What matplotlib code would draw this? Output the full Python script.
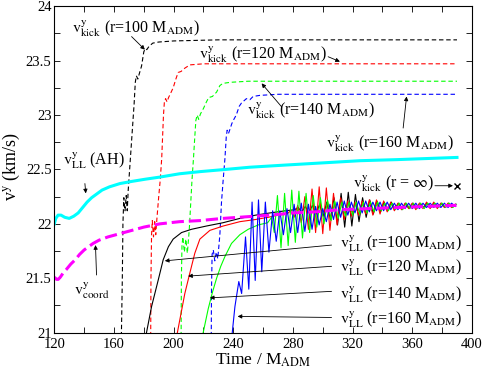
import matplotlib
matplotlib.use("Agg")
import matplotlib.pyplot as plt
from matplotlib.ticker import MultipleLocator, FuncFormatter

plt.rcParams["font.family"] = ["Liberation Serif", "DejaVu Serif"]
plt.rcParams["mathtext.fontset"] = "stix"

# --- данные ---
# v^y_LL (AH) — толстая голубая
ah_t = [120, 121, 122.5, 124.5, 127, 130, 133, 136, 139, 142, 145, 148, 152, 157, 164, 172,
        181, 191, 204, 218, 235, 251, 275, 300, 325, 350, 370, 390]
ah_v = [22.0, 22.05, 22.08, 22.08, 22.06, 22.05, 22.07, 22.10, 22.15, 22.2, 22.24, 22.27, 22.31,
        22.34, 22.37, 22.39, 22.41, 22.43, 22.46, 22.48, 22.50, 22.52, 22.54, 22.56, 22.58, 22.59,
        22.60, 22.61]

# v^y_coord — толстая пунктирная маджента
coord_t = [120, 121.5, 122.6, 124, 126, 128, 131, 134, 137, 140, 143, 146, 150, 156, 164, 172,
           180, 190.8, 204, 217.6, 233, 248.9, 265, 280, 295, 311.5, 330, 350, 370, 389.7]
coord_v = [21.51, 21.49, 21.49, 21.51, 21.55, 21.58, 21.63, 21.67, 21.72, 21.76, 21.79, 21.82,
           21.85, 21.88, 21.91, 21.94, 21.97, 22.0, 22.02, 22.03, 22.05, 22.065, 22.08, 22.1,
           22.11, 22.13, 22.14, 22.15, 22.16, 22.17]

# v^y_kick на разных радиусах (тонкий пунктир)
kick100_t = [164.5, 165.0, 165.6, 166.0, 166.6, 167.4, 168.2, 168.9, 169.5, 170.5, 171.5, 172.5,
             173.5, 174.3, 175.0, 176.0, 177.0, 178.5, 180.0, 181.0, 182.0, 183.5, 186, 190, 200,
             230, 390]
kick100_v = [20.9, 21.0, 21.5, 22.0, 22.24, 22.12, 22.26, 22.12, 22.3, 22.5, 22.7, 22.9, 23.1,
             23.3, 23.36, 23.33, 23.38, 23.45, 23.58, 23.61, 23.60, 23.63, 23.66, 23.67, 23.68,
             23.69, 23.69]

kick120_t = [184.6, 184.8, 185.2, 185.7, 186.5, 187.3, 188.0, 188.8, 190, 191, 192, 192.6, 193.2,
             193.8, 194.6, 195.6, 196.6, 198, 199.7, 201.5, 203, 205, 207.5, 210.9, 220, 390]
kick120_v = [20.9, 21.5, 21.9, 22.03, 21.88, 22.02, 21.90, 22.05, 22.25, 22.4, 22.6, 22.8, 23.0,
             23.12, 23.15, 23.12, 23.16, 23.2, 23.25, 23.33, 23.39, 23.40, 23.43, 23.46, 23.47,
             23.47]

kick140_t = [205.0, 205.2, 205.6, 206.2, 207.2, 208.2, 209.2, 210.5, 211.5, 212.3, 213.3, 214.2,
             214.9, 215.8, 216.8, 218.0, 220, 222, 223.5, 226, 228.8, 231, 233, 238, 250, 390]
kick140_v = [20.9, 21.5, 21.8, 21.88, 21.74, 21.86, 21.73, 21.95, 22.2, 22.4, 22.6, 22.8, 22.95,
             23.0, 22.96, 23.01, 23.06, 23.12, 23.16, 23.17, 23.21, 23.27, 23.29, 23.30, 23.31,
             23.31]

kick160_t = [225.2, 225.4, 225.8, 226.6, 227.6, 228.6, 229.6, 231, 232.1, 233.2, 234.4, 235.3,
             235.9, 236.8, 237.8, 239, 240, 242, 244, 245.5, 248.8, 251.1, 253.3, 257.8, 270, 390]
kick160_v = [20.9, 21.4, 21.72, 21.76, 21.66, 21.74, 21.68, 21.9, 22.2, 22.4, 22.6, 22.8, 22.86,
             22.83, 22.87, 22.92, 22.95, 23.0, 23.08, 23.11, 23.15, 23.14, 23.17, 23.18, 23.19,
             23.19]

# v^y_LL на разных радиусах (тонкие сплошные, с осцилляциями)
ll100_t = [180.5, 181.8, 185.2, 189.6, 193.0, 196.5, 199.7, 205.3, 212.0, 222.0, 233.0, 244.4,
           255.0, 264.5, 275.0, 281.1,
           283.5, 285.9, 288.3, 290.7, 293.1, 295.5, 297.9, 300.3, 302.7, 305.1,
           307.5, 309.9, 312.3, 314.7, 317.1, 319.5, 321.9, 324.3, 326.7, 329.1,
           331.5, 333.9, 336.3, 338.7, 341.1, 343.5, 345.9, 348.3, 350.7, 353.1,
           355.5, 357.9, 360.3, 362.7, 365.1, 367.5, 369.9, 372.3, 374.7, 377.1,
           379.5, 381.9, 384.3, 386.7, 389.1]
ll100_v = [20.9, 21.0, 21.24, 21.48, 21.67, 21.79, 21.86, 21.92, 21.95, 21.98, 22.01, 22.05,
           22.08, 22.10, 22.12, 22.13,
           22.15, 22.11, 22.16, 22.10, 22.17, 22.09, 22.18, 22.07, 22.20, 22.04,
           22.24, 21.99, 22.28, 21.97, 22.29, 21.98, 22.27, 22.02, 22.24, 22.06,
           22.22, 22.09, 22.21, 22.11, 22.20, 22.12, 22.20, 22.13, 22.19, 22.13,
           22.19, 22.14, 22.19, 22.14, 22.19, 22.15, 22.19, 22.15, 22.19, 22.15,
           22.19, 22.15, 22.19, 22.15, 22.18]

ll120_t = [201.5, 202.5, 205.0, 207.5, 210.9, 214.2, 217.6, 224.3, 233.2, 244.4, 255.0, 263.4,
           270.0, 276.0,
           278.4, 280.8, 283.2, 285.6, 288.0, 290.4, 292.8, 295.2, 297.6, 300.0,
           302.4, 304.8, 307.2, 309.6, 312.0, 314.4, 316.8, 319.2, 321.6, 324.0,
           326.4, 328.8, 331.2, 333.6, 336.0, 338.4, 340.8, 343.2, 345.6, 348.0,
           350.4, 352.8, 355.2, 357.6, 360.0, 362.4, 364.8, 367.2, 369.6, 372.0,
           374.4, 376.8, 379.2, 381.6, 384.0, 386.4, 388.8]
ll120_v = [20.95, 21.0, 21.18, 21.36, 21.55, 21.73, 21.86, 21.94, 21.98, 22.02, 22.04, 22.06,
           22.08, 22.09,
           22.12, 22.06, 22.17, 22.01, 22.25, 21.95, 22.32, 21.92, 22.34, 21.91,
           22.33, 21.94, 22.28, 21.99, 22.24, 22.04, 22.21, 22.07, 22.20, 22.08,
           22.21, 22.09, 22.22, 22.08, 22.22, 22.09, 22.21, 22.11, 22.20, 22.12,
           22.19, 22.13, 22.19, 22.14, 22.19, 22.13, 22.19, 22.14, 22.20, 22.14,
           22.20, 22.14, 22.19, 22.15, 22.19, 22.15, 22.18]

ll140_t = [219.0, 219.8, 223.2, 226.0, 228.8, 231.6, 234.4, 238.8, 244.4, 250.0, 256.7, 263.0,
           265.7, 267.5, 269.6, 272.0, 274.4, 276.8, 279.2, 281.6, 284.0, 286.4,
           288.8, 291.2, 293.6, 296.0, 298.4, 300.8, 303.2, 305.6, 308.0, 310.4,
           312.8, 315.2, 317.6, 320.0, 322.4, 324.8, 327.2, 329.6, 332.0, 334.4,
           336.8, 339.2, 341.6, 344.0, 346.4, 348.8, 351.2, 353.6, 356.0, 358.4,
           360.8, 363.2, 365.6, 368.0, 370.4, 372.8, 375.2, 377.6, 380.0, 382.4,
           384.8, 387.2, 389.6]
ll140_v = [20.9, 21.0, 21.22, 21.37, 21.50, 21.61, 21.70, 21.82, 21.90, 21.95, 21.99, 22.01,
           22.06, 21.92, 22.26, 21.78, 22.28, 21.80, 22.31, 21.83, 22.30, 21.87,
           22.28, 21.92, 22.26, 21.97, 22.24, 22.00, 22.22, 22.03, 22.21, 22.05,
           22.20, 22.07, 22.20, 22.08, 22.20, 22.09, 22.20, 22.10, 22.20, 22.11,
           22.20, 22.12, 22.19, 22.12, 22.19, 22.13, 22.19, 22.13, 22.19, 22.14,
           22.19, 22.14, 22.19, 22.14, 22.19, 22.15, 22.19, 22.15, 22.19, 22.15,
           22.19, 22.15, 22.18]

ll160_t = [238.0, 239.3, 241.1,
           243.7, 245.6, 248.2, 250.4, 252.6, 254.7, 256.9, 259.1, 261.5, 263.9,
           266.4, 268.8, 271.2, 273.6, 276.0, 278.4, 280.8, 283.2, 285.6, 288.0,
           290.4, 292.8, 295.2, 297.6, 300.0, 302.4, 304.8, 307.2, 309.6, 312.0,
           314.4, 316.8, 319.2, 321.6, 324.0, 326.4, 328.8, 331.2, 333.6, 336.0,
           338.4, 340.8, 343.2, 345.6, 348.0, 350.4, 352.8, 355.2, 357.6, 360.0,
           362.4, 364.8, 367.2, 369.6, 372.0, 374.4, 376.8, 379.2, 381.6, 384.0,
           386.4, 388.8]
ll160_v = [20.9, 21.0, 21.24,
           21.47, 21.36, 21.88, 21.40, 22.20, 21.48, 22.22, 21.56, 22.20, 21.74,
           22.12, 21.84, 22.12, 21.90, 22.14, 21.92, 22.18, 21.92, 22.19, 21.93,
           22.18, 21.95, 22.16, 21.99, 22.14, 22.02, 22.18, 22.04, 22.20, 22.06,
           22.21, 22.08, 22.20, 22.10, 22.21, 22.10, 22.21, 22.11, 22.20, 22.12,
           22.20, 22.12, 22.20, 22.13, 22.19, 22.13, 22.19, 22.14, 22.19, 22.14,
           22.19, 22.14, 22.19, 22.15, 22.19, 22.15, 22.19, 22.15, 22.19, 22.15,
           22.19, 22.16]

# экстраполяция на r = inf
kick_inf_t = [390.1]
kick_inf_v = [22.35]

fig = plt.figure(figsize=(4.85, 3.72), dpi=100)
ax = fig.add_axes([0.112, 0.1056, 0.861, 0.878])

kick_style = dict(lw=0.8, dashes=(4, 2.5))
ax.plot(kick100_t, kick100_v, color="black", **kick_style)
ax.plot(kick120_t, kick120_v, color="red", **kick_style)
ax.plot(kick140_t, kick140_v, color="#00ff00", **kick_style)
ax.plot(kick160_t, kick160_v, color="blue", **kick_style)

ax.plot(ll100_t, ll100_v, color="black", lw=0.8)
ax.plot(ll120_t, ll120_v, color="red", lw=0.8)
ax.plot(ll140_t, ll140_v, color="#00ff00", lw=0.8)
ax.plot(ll160_t, ll160_v, color="blue", lw=0.8)

ax.plot(ah_t, ah_v, color="cyan", lw=2.2)
ax.plot(coord_t, coord_v, color="magenta", lw=2.2, dashes=(4, 1.6))
ax.plot(kick_inf_t, kick_inf_v, "x", color="black", ms=4, mew=1.0)

ax.set_xlim(120, 400)
ax.set_ylim(21, 24)
ax.xaxis.set_major_locator(MultipleLocator(40))
ax.xaxis.set_minor_locator(MultipleLocator(20))
ax.yaxis.set_major_locator(MultipleLocator(0.5))
ax.yaxis.set_minor_locator(MultipleLocator(0.25))
ax.yaxis.set_major_formatter(FuncFormatter(lambda v, p: f"{v:g}"))
ax.tick_params(which="both", direction="in", top=True, right=True, length=4.5, width=0.6,
               labelsize=10.5)
ax.tick_params(axis="x", pad=4)
ax.tick_params(axis="y", pad=2)
for s in ax.spines.values():
    s.set_linewidth(0.8)

ax.set_xlabel(r"Time / M$_{\mathrm{ADM}}$", fontsize=12.5, labelpad=0)
ax.set_ylabel(r"v$^{\mathrm{y}}$ (km/s)", fontsize=13)
ax.yaxis.set_label_coords(-0.078, 0.51)

fs = 11.5
V = r"$\mathrm{v}^{\mathrm{y}}_{\mathrm{%s}}$"
M = r"M$_{\mathrm{ADM}}$"

def label(x, y, txt):
    ax.text(x, y, txt, fontsize=fs, ha="left", va="baseline")

def arrow(x0, y0, x1, y1):
    ax.annotate("", xy=(x1, y1), xytext=(x0, y0),
                arrowprops=dict(arrowstyle="-|>", color="black", lw=0.6,
                                mutation_scale=6, shrinkA=0, shrinkB=0))

label(131.7, 23.752, V % "kick" + " (r=100 " + M + ")")
arrow(171.8, 23.72, 180.7, 23.60)
label(217.0, 23.52, V % "kick" + " (r=120 " + M + ")")
arrow(303.6, 23.535, 311.5, 23.49)
label(248.9, 23.0, V % "kick" + " (r=140 " + M + ")")
arrow(272.4, 23.075, 259.0, 23.29)
label(302.1, 22.70, V % "kick" + " (r=160 " + M + ")")
arrow(353.9, 22.88, 356.2, 23.17)
label(125.7, 22.54, V % "LL" + " (AH)")
arrow(140.5, 22.37, 141.1, 22.28)
label(133.1, 21.346, V % "coord")
arrow(148.3, 21.53, 147.6, 21.805)
label(320.2, 22.33, V % "kick" + r" (r = $\infty$)")
arrow(375.2, 22.35, 387.3, 22.35)

label(311.5, 21.78, V % "LL" + " (r=100 " + M + ")")
arrow(305.9, 21.805, 194.1, 21.66)
label(311.5, 21.557, V % "LL" + " (r=120 " + M + ")")
arrow(305.9, 21.61, 209.7, 21.52)
label(311.5, 21.31, V % "LL" + " (r=140 " + M + ")")
arrow(305.9, 21.38, 224.3, 21.32)
label(311.5, 21.08, V % "LL" + " (r=160 " + M + ")")
arrow(305.9, 21.14, 242.9, 21.15)

fig.savefig("out.png", dpi=100)
